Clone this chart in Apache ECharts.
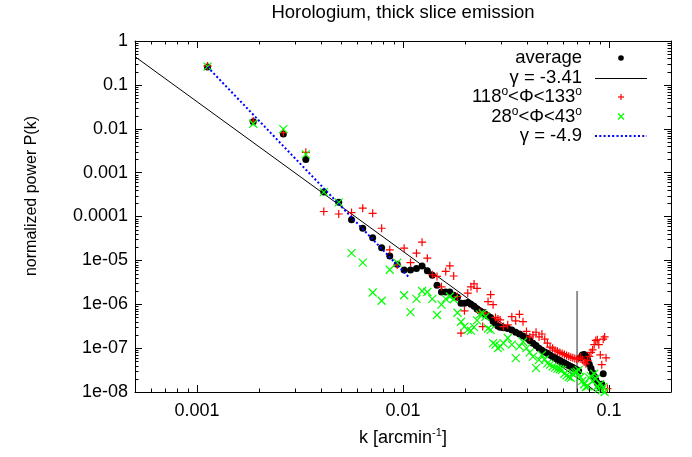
<!DOCTYPE html>
<html><head><meta charset="utf-8">
<script src="https://cdn.jsdelivr.net/npm/echarts@6/dist/echarts.min.js"></script>
<style>html,body{margin:0;padding:0;background:#fff}#c{width:692px;height:457px}</style>
</head><body><div id="c"></div>
<script>
// ---- data ----
const kValues = [0.001125,0.001875,0.002625,0.003375,0.004125,0.004875,0.005625,0.006375,0.007125,0.007875,
  0.008625,0.009375,0.010125,0.010875,0.011625,0.012375,0.013125,0.013875,0.014625,0.015375,
  0.016125,0.016875,0.017625,0.018375,0.019125,0.019875,0.020625,0.021375,0.022125,0.022875,
  0.023625,0.024375,0.025125,0.025875,0.026625,0.027375,0.028125,0.028875,0.029625,0.03075,
  0.03225,0.03375,0.03525,0.03675,0.03825,0.03975,0.04125,0.04275,0.04425,0.04575,
  0.04725,0.04875,0.05025,0.05175,0.05325,0.05475,0.05625,0.05775,0.05925,0.06075,
  0.06225,0.06375,0.06525,0.06675,0.06825,0.06975,0.07125,0.07275,0.07425,0.07575,
  0.07725,0.07875,0.08025,0.08175,0.08325,0.08475,0.08625,0.08775,0.08925,0.09075,
  0.09225,0.09375,0.09525,0.09675,0.09825];
const avgP = [0.256,0.0145,0.0076,0.0020,3.6e-4,2.1e-4,8.4e-5,5.4e-5,3.3e-5,1.95e-5,
  1.25e-5,8.2e-6,6.0e-6,6.0e-6,6.5e-6,7.4e-6,5.8e-6,4.6e-6,2.7e-6,1.9e-6,
  1.9e-6,1.9e-6,1.6e-6,1.45e-6,1.05e-6,1.05e-6,1.1e-6,1.0e-6,9.0e-7,7.8e-7,
  7.0e-7,6.6e-7,5.9e-7,5.4e-7,5.0e-7,4.1e-7,3.6e-7,3.2e-7,3.0e-7,2.9e-7,
  2.8e-7,2.6e-7,2.3e-7,2.1e-7,1.9e-7,1.7e-7,1.5e-7,1.3e-7,1.15e-7,1.0e-7,
  9.0e-8,8.2e-8,7.6e-8,7.0e-8,6.4e-8,6.0e-8,5.6e-8,5.2e-8,4.8e-8,4.6e-8,
  4.3e-8,4.0e-8,3.8e-8,3.6e-8,3.4e-8,3.2e-8,3.0e-8,6.0e-8,7.0e-8,7.2e-8,
  6.5e-8,5.5e-8,4.3e-8,3.5e-8,2.8e-8,2.3e-8,1.9e-8,1.6e-8,1.4e-8,1.25e-8,
  1.5e-8,2.6e-8,null,null,null];
const redP = [0.27,0.015,0.0082,0.0029,1.3e-4,1.14e-4,1.23e-4,1.55e-4,1.18e-4,5.4e-5,
  1.74e-5,7.8e-6,1.9e-5,8.9e-6,1.46e-5,2.6e-5,1.12e-5,4.7e-6,4.3e-6,2.5e-6,
  5.6e-6,7.5e-6,4.4e-6,1.5e-6,2.2e-7,7.1e-7,1.8e-6,2.5e-6,2.9e-6,2.3e-6,
  6.5e-7,3.1e-7,6.3e-7,1.15e-6,1.65e-6,9.8e-7,5.0e-7,4.6e-7,4.4e-7,3.1e-7,
  3.4e-7,5.2e-7,4.2e-7,5.9e-7,4.0e-7,2.4e-7,1.8e-7,2.0e-7,2.3e-7,1.8e-7,
  2.1e-7,1.6e-7,1.3e-7,1.05e-7,1.0e-7,9.0e-8,8.5e-8,8.0e-8,7.5e-8,7.2e-8,
  6.8e-8,6.5e-8,6.2e-8,6.0e-8,5.8e-8,5.6e-8,5.8e-8,6.2e-8,5.5e-8,4.8e-8,
  4.4e-8,5.2e-8,6.5e-8,8.0e-8,9.1e-8,1.2e-7,1.5e-7,1.55e-7,1.2e-7,7.0e-8,
  4.2e-8,1.6e-7,1.8e-7,6.0e-8,1.2e-8];
const greenP = [0.26,0.013,0.0098,0.0026,3.6e-4,2.1e-4,1.46e-5,8.9e-6,1.85e-6,1.2e-6,
  6.1e-6,8.9e-6,1.6e-6,6.6e-7,1.33e-6,2.0e-6,1.9e-6,1.33e-6,5.7e-7,9.8e-7,
  1.33e-6,1.5e-6,1.3e-6,6.4e-7,4.0e-7,3.1e-7,2.6e-7,2.5e-7,3.0e-7,4.3e-7,
  5.9e-7,6.2e-7,5.2e-7,2.8e-7,2.6e-7,1.3e-7,1.2e-7,1.0e-7,1.1e-7,1.3e-7,
  1.7e-7,1.2e-7,5.9e-8,1.1e-7,1.4e-7,1.0e-7,8.0e-8,6.4e-8,3.5e-8,5.4e-8,
  7.0e-8,5.5e-8,4.5e-8,4.2e-8,3.8e-8,3.6e-8,3.4e-8,3.3e-8,3.2e-8,2.6e-8,
  2.4e-8,2.2e-8,2.1e-8,2.6e-8,2.8e-8,2.9e-8,3.2e-8,2.2e-8,1.8e-8,1.5e-8,
  1.3e-8,1.35e-8,2.1e-8,2.3e-8,1.8e-8,2.6e-8,2.0e-8,1.35e-8,1.2e-8,1.5e-8,
  1.1e-8,1.3e-8,1.0e-8,null,null];
// power-law fits
const fitK = [0.0005, 0.0871];
const fitP = [0.44, 1.0e-8];
const steepK = [0.001125, 0.0106];
const steepP = [0.256, 4.3e-6];
// vertical marker
const markK = [0.07, 0.07];
const markP = [1.0e-8, 2.0e-6];
// ticks
const xTickLabels = ['0.001', '0.01', '0.1'];          // 1e-3, 1e-2, 1e-1
const yTickLabels = ['1e-08','1e-07','1e-06','1e-05','0.0001','0.001','0.01','0.1','1'];
const minorMantissa = [2,3,4,5,6,7,8,9];
const legendNames = ['average', 'γ = -3.41', '118{sup|o}<Φ<133{sup|o}', '28{sup|o}<Φ<43{sup|o}', 'γ = -4.9'];

const X_MIN = 0.0005, X_MAX = 0.2, Y_MIN = 1e-8, Y_MAX = 1;
const FONT = '"Liberation Sans", Arial, Helvetica, sans-serif';

function pairs(xs, ys) { return xs.map((x, i) => [x, ys[i]]).filter(p => p[1] != null); }
function isDecade(v) { const e = Math.log10(v); return Math.abs(e - Math.round(e)) < 1e-6; }

const xMinor = [], yMinor = [];
for (let e = -4; e <= -1; e++) minorMantissa.forEach(m => { const v = m * Math.pow(10, e); if (v > X_MIN * 1.0001 && v < X_MAX * 0.9999) xMinor.push(v); });
for (let e = -8; e <= -1; e++) minorMantissa.forEach(m => { const v = m * Math.pow(10, e); if (v > Y_MIN && v < Y_MAX) yMinor.push(v); });

const MINOR = 3.5;
function minorTicks(dim) {
  const data = dim === 'x' ? xMinor.map(v => [v, Y_MIN]) : yMinor.map(v => [X_MIN, v]);
  return {
    type: 'custom', silent: true, z: 10, data: data,
    renderItem: function (params, api) {
      const st = { stroke: '#000', lineWidth: 1 };
      if (dim === 'x') {
        const b = api.coord([api.value(0), Y_MIN]), t = api.coord([api.value(0), Y_MAX]);
        const x = Math.round(b[0]) + 0.5;
        return { type: 'group', children: [
          { type: 'line', shape: { x1: x, y1: b[1], x2: x, y2: b[1] - MINOR }, style: st },
          { type: 'line', shape: { x1: x, y1: t[1], x2: x, y2: t[1] + MINOR }, style: st }] };
      } else {
        const l = api.coord([X_MIN, api.value(1)]), r = api.coord([X_MAX, api.value(1)]);
        const y = Math.round(l[1]) + 0.5;
        return { type: 'group', children: [
          { type: 'line', shape: { x1: l[0], y1: y, x2: l[0] + MINOR, y2: y }, style: st },
          { type: 'line', shape: { x1: r[0], y1: y, x2: r[0] - MINOR, y2: y }, style: st }] };
      }
    }
  };
}

const axisCommon = {
  type: 'log', logBase: 10,
  axisLine: { show: true, onZero: false, lineStyle: { color: '#000', width: 1 } },
  axisTick: { show: true, inside: true, length: 7, lineStyle: { color: '#000', width: 1 } },
  splitLine: { show: false }, minorTick: { show: false }
};
const supStyle = { fontSize: 11, fontFamily: FONT, color: '#000', verticalAlign: 'top', lineHeight: 11 };

const chart = echarts.init(document.getElementById('c'), null, { renderer: 'canvas' });
const legendY0 = 58, legendDY = 19.5, legendTextX = 582, sampleX0 = 595, sampleX1 = 647;
const sampleCX = (sampleX0 + sampleX1) / 2;
const graphics = [
  { type: 'text', x: 403, y: 13, style: { text: 'Horologium, thick slice emission', font: '18.5px ' + FONT, fill: '#000', align: 'center', verticalAlign: 'middle', textAlign: 'center', textVerticalAlign: 'middle' } },
  { type: 'text', x: 32, y: 196, rotation: Math.PI / 2, style: { text: 'normalized power P(k)', font: '16px ' + FONT, fill: '#000', align: 'center', verticalAlign: 'middle', textAlign: 'center', textVerticalAlign: 'middle' } }
];
legendNames.forEach((name, i) => {
  const y = legendY0 + legendDY * i;
  graphics.push({ type: 'text', x: legendTextX, y: y, z: 100, style: {
    text: name, font: '18.5px ' + FONT, fill: '#000', align: 'right', verticalAlign: 'middle', textAlign: 'right', textVerticalAlign: 'middle',
    lineHeight: 22, rich: { sup: { fontSize: 12, fontFamily: FONT, fill: '#000', verticalAlign: 'top', lineHeight: 12 } } } });
});
const ly = i => legendY0 + legendDY * i;
graphics.push({ type: 'circle', z: 100, shape: { cx: sampleCX, cy: ly(0), r: 2.8 }, style: { fill: '#000' } });
graphics.push({ type: 'line', z: 100, shape: { x1: sampleX0, y1: Math.round(ly(1)) + 0.5, x2: sampleX1, y2: Math.round(ly(1)) + 0.5 }, style: { stroke: '#000', lineWidth: 1 } });
graphics.push({ type: 'group', z: 100, children: [
  { type: 'line', shape: { x1: sampleCX - 3, y1: ly(2), x2: sampleCX + 3, y2: ly(2) }, style: { stroke: '#ff0000', lineWidth: 1.2 } },
  { type: 'line', shape: { x1: sampleCX, y1: ly(2) - 3, x2: sampleCX, y2: ly(2) + 3 }, style: { stroke: '#ff0000', lineWidth: 1.2 } }] });
graphics.push({ type: 'group', z: 100, children: [
  { type: 'line', shape: { x1: sampleCX - 3, y1: ly(3) - 3, x2: sampleCX + 3, y2: ly(3) + 3 }, style: { stroke: '#00ff00', lineWidth: 1.2 } },
  { type: 'line', shape: { x1: sampleCX - 3, y1: ly(3) + 3, x2: sampleCX + 3, y2: ly(3) - 3 }, style: { stroke: '#00ff00', lineWidth: 1.2 } }] });
graphics.push({ type: 'line', z: 100, shape: { x1: sampleX0, y1: ly(4), x2: sampleX1, y2: ly(4) }, style: { stroke: '#0000ff', lineWidth: 2, lineDash: [2, 2.3] } });

chart.setOption({
  animation: false,
  backgroundColor: '#fff',
  textStyle: { fontFamily: FONT },
  grid: { left: 135, right: 21, top: 41, bottom: 65, containLabel: false },
  xAxis: [
    Object.assign({}, axisCommon, {
      position: 'bottom', min: X_MIN, max: X_MAX, splitNumber: 3,
      axisLabel: { show: true, color: '#000', fontSize: 18, fontFamily: FONT, margin: 10,
        formatter: v => isDecade(v) ? (xTickLabels[Math.round(Math.log10(v)) + 3] || '') : '' },
      name: 'k [arcmin{sup|-1}]', nameLocation: 'middle', nameGap: 35,
      nameTextStyle: { fontSize: 18, fontFamily: FONT, color: '#000', lineHeight: 22, rich: { sup: supStyle } }
    }),
    Object.assign({}, axisCommon, { position: 'top', min: X_MIN, max: X_MAX, splitNumber: 3, axisLabel: { show: false } })
  ],
  yAxis: [
    Object.assign({}, axisCommon, {
      position: 'left', min: Y_MIN, max: Y_MAX, splitNumber: 8,
      axisLabel: { show: true, color: '#000', fontSize: 18, fontFamily: FONT, margin: 7,
        formatter: v => isDecade(v) ? (yTickLabels[Math.round(Math.log10(v)) + 8] || '') : '' }
    }),
    Object.assign({}, axisCommon, { position: 'right', min: Y_MIN, max: Y_MAX, splitNumber: 8, axisLabel: { show: false } })
  ],
  graphic: graphics,
  series: [
    { name: 'marker', type: 'line', data: pairs(markK, markP), symbol: 'none', silent: true, z: 1,
      lineStyle: { color: '#808080', width: 1.7 } },
    { name: 'average', type: 'scatter', data: pairs(kValues, avgP), symbol: 'circle', symbolSize: 7, z: 2,
      itemStyle: { color: '#000', opacity: 1 } },
    { name: 'γ = -3.41', type: 'line', data: pairs(fitK, fitP), symbol: 'none', z: 3,
      lineStyle: { color: '#000', width: 1 } },
    { name: '118°<Φ<133°', type: 'scatter', data: pairs(kValues, redP), symbol: 'path://M0,5L10,5M5,0L5,10', symbolSize: 8, z: 4,
      itemStyle: { color: '#ff0000', borderColor: '#ff0000', borderWidth: 1.2, opacity: 1 } },
    { name: '28°<Φ<43°', type: 'scatter', data: pairs(kValues, greenP), symbol: 'path://M0,0L10,10M10,0L0,10', symbolSize: 8, z: 5,
      itemStyle: { color: '#00ff00', borderColor: '#00ff00', borderWidth: 1.2, opacity: 1 } },
    { name: 'γ = -4.9', type: 'line', data: pairs(steepK, steepP), symbol: 'none', z: 6,
      lineStyle: { color: '#0000ff', width: 2, type: [2, 2.3] } },
    minorTicks('x'),
    minorTicks('y')
  ]
});
</script>
</body></html>
